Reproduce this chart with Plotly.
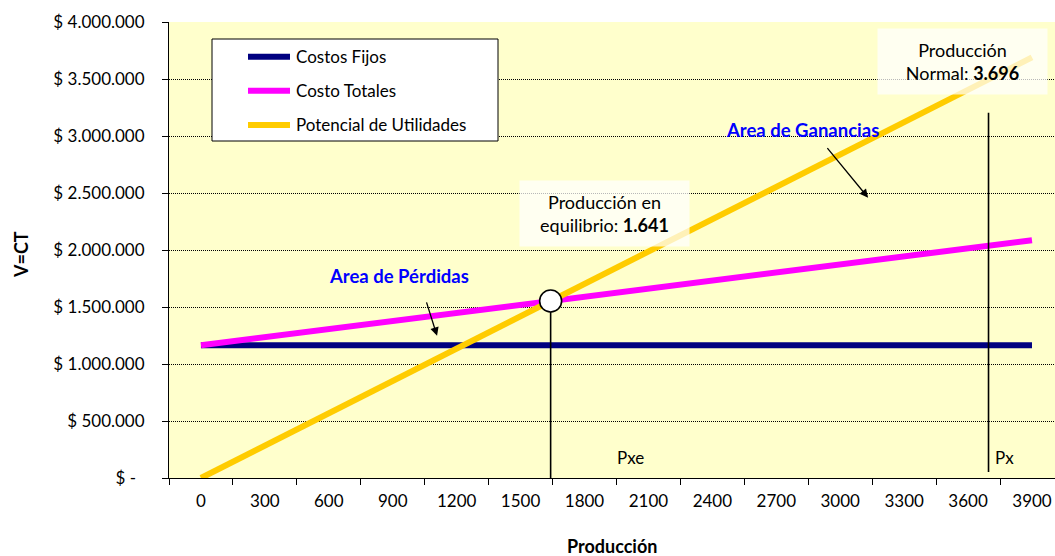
import plotly.graph_objects as go

# Production levels (units) on the horizontal axis
produccion = [0, 300, 600, 900, 1200, 1500, 1800, 2100, 2400, 2700, 3000, 3300, 3600, 3900]
etiquetas_x = [str(v) for v in produccion]

# Series values ($)
costos_fijos = [1165000] * 14
costo_totales = [1165000, 1235800, 1306600, 1377400, 1448200, 1519000, 1589800,
                 1660600, 1731400, 1802200, 1873000, 1943800, 2014600, 2085400]
potencial_utilidades = [0, 283800, 567600, 851400, 1135200, 1419000, 1702800,
                        1986600, 2270400, 2554200, 2838000, 3121800, 3405600, 3689400]

# Break-even and normal production
q_equilibrio = 1641
v_equilibrio = 1552400
q_normal = 3696

y_ticks = [0, 500000, 1000000, 1500000, 2000000, 2500000, 3000000, 3500000, 4000000]
y_labels = ["$ -\u2002", "$ 500.000", "$ 1.000.000", "$ 1.500.000", "$ 2.000.000",
            "$ 2.500.000", "$ 3.000.000", "$ 3.500.000", "$ 4.000.000"]

FONT = "Lato"
FS = 17


def miles(n):
    return f"{n:,}".replace(",", ".")


fig = go.Figure()

fig.add_trace(go.Scatter(x=produccion, y=costos_fijos, mode="lines", name="Costos Fijos",
                         line=dict(color="#000080", width=6), showlegend=False))
fig.add_trace(go.Scatter(x=produccion, y=costo_totales, mode="lines", name="Costo Totales",
                         line=dict(color="#FF00FF", width=6), showlegend=False))
fig.add_trace(go.Scatter(x=produccion, y=potencial_utilidades, mode="lines",
                         name="Potencial de Utilidades",
                         line=dict(color="#FFCC00", width=6), showlegend=False))

# Vertical reference lines at break-even (Pxe) and normal production (Px)
fig.add_trace(go.Scatter(x=[q_equilibrio, q_equilibrio], y=[-40000, v_equilibrio], mode="lines",
                         line=dict(color="black", width=1.6), showlegend=False, hoverinfo="skip"))
fig.add_trace(go.Scatter(x=[q_normal, q_normal], y=[53000, 3205000], mode="lines",
                         line=dict(color="black", width=1.6), showlegend=False, hoverinfo="skip"))

# Break-even point marker
fig.add_trace(go.Scatter(x=[q_equilibrio], y=[v_equilibrio], mode="markers",
                         marker=dict(size=22, color="white", line=dict(color="black", width=1.6)),
                         showlegend=False, cliponaxis=False))

# Plot area geometry in pixels (for the hand-drawn legend box)
L, T, R, B = 169, 22, 1055, 478


def px(xp):
    return (xp - L) / (R - L)


def py(yp):
    return (B - yp) / (B - T)


shapes = [dict(type="rect", xref="paper", yref="paper",
               x0=px(212), x1=px(498), y0=py(141), y1=py(39),
               fillcolor="white", line=dict(color="black", width=1), layer="above")]

annotations = []
serie_info = [("Costos Fijos", "#000080", 56.7), ("Costo Totales", "#FF00FF", 90.7),
              ("Potencial de Utilidades", "#FFCC00", 125)]
for nombre, color, yy in serie_info:
    shapes.append(dict(type="line", xref="paper", yref="paper",
                       x0=px(248), x1=px(290), y0=py(yy), y1=py(yy),
                       line=dict(color=color, width=6), layer="above"))
    annotations.append(dict(text=nombre, xref="paper", yref="paper", x=px(294), y=py(yy),
                            xanchor="left", yanchor="middle", showarrow=False,
                            font=dict(family=FONT, size=FS, color="black")))

caja = dict(bgcolor="rgba(255,255,255,0.72)", borderpad=0, width=169, height=65,
            showarrow=False, font=dict(family=FONT, size=FS + 1, color="black"))
annotations.append(dict(text=f"Producción en<br>equilibrio: <b>{miles(q_equilibrio)}</b>",
                        x=1894, y=2323000, xanchor="center", yanchor="middle", **caja))
annotations.append(dict(text=f"Producción<br>Normal: <b>{miles(q_normal)}</b>",
                        x=3575, y=3657000, xanchor="center", yanchor="middle", **caja))

azul = dict(family=FONT, size=18.5, color="#0000FF")
annotations.append(dict(text="<b>Area de Ganancias</b>", x=2822, y=3056000, showarrow=False,
                        font=azul))
annotations.append(dict(text="<b>Area de Pérdidas</b>", x=930, y=1774000, showarrow=False,
                        font=azul))

flecha = dict(text="", showarrow=True, arrowhead=2, arrowsize=1.3, arrowwidth=1.3,
              arrowcolor="black", axref="pixel", ayref="pixel")
annotations.append(dict(x=3131, y=2459000, ax=-42, ay=-51, **flecha))
annotations.append(dict(x=1108, y=1247000, ax=-11, ay=-35, **flecha))

annotations.append(dict(text="Pxe", x=1944, y=184000, xanchor="left", yanchor="middle",
                        showarrow=False, font=dict(family=FONT, size=FS, color="black")))
annotations.append(dict(text="Px", x=q_normal, y=184000, xanchor="left", yanchor="middle",
                        xshift=4, showarrow=False, font=dict(family=FONT, size=FS, color="black")))

# Axis titles
annotations.append(dict(text="<b>V=CT</b>", xref="paper", yref="paper", x=0, y=0.5,
                        xshift=21 - L, yshift=-5, textangle=-90, showarrow=False,
                        xanchor="center", yanchor="middle",
                        font=dict(family=FONT, size=18, color="black")))
annotations.append(dict(text="<b>Producción</b>", xref="paper", yref="paper", x=0.5, y=0,
                        yshift=-(546 - B), showarrow=False, xanchor="center", yanchor="middle",
                        font=dict(family=FONT, size=18, color="black")))

fig.update_layout(
    width=1055, height=556,
    margin=dict(l=L, r=0, t=T, b=556 - B),
    paper_bgcolor="white", plot_bgcolor="#FFFFCC",
    font=dict(family=FONT, size=FS, color="black"),
    shapes=shapes, annotations=annotations,
    showlegend=False,
)

fig.update_xaxes(
    range=[-150, 4008], tickmode="array", tickvals=produccion, ticktext=etiquetas_x,
    ticks="", showgrid=False, zeroline=False, showline=True, linecolor="black", linewidth=1,
    ticklabelstandoff=8, tickfont=dict(family=FONT, size=FS),
    minor=dict(tick0=-150, dtick=300, ticks="outside", ticklen=6, tickcolor="black",
               tickwidth=1, showgrid=False),
)
fig.update_yaxes(
    range=[0, 4000000], tickmode="array", tickvals=y_ticks, ticktext=y_labels,
    ticks="outside", ticklen=6, tickcolor="black", showgrid=True, gridcolor="black",
    griddash="1px,1px", gridwidth=1, zeroline=False, showline=True, linecolor="black",
    linewidth=1, ticklabelstandoff=14, tickfont=dict(family=FONT, size=FS),
)

fig.write_html("out.html")
